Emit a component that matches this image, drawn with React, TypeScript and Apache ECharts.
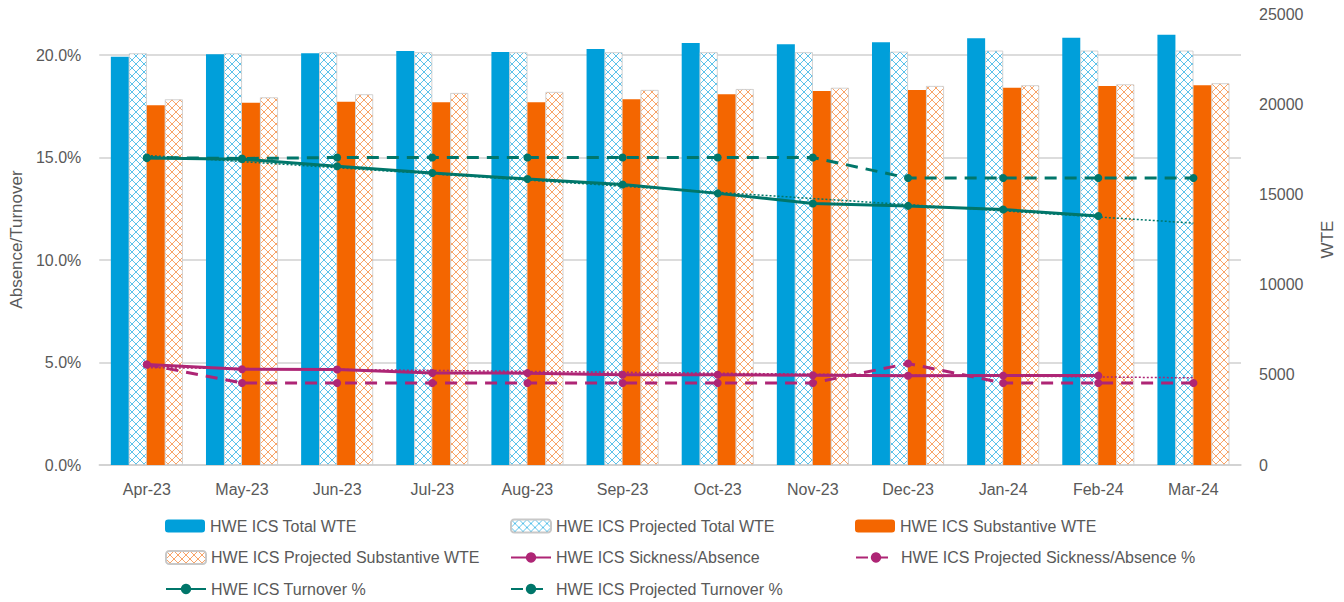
import React, { useEffect, useRef } from 'react';
import * as echarts from 'echarts';

const months = ['Apr-23', 'May-23', 'Jun-23', 'Jul-23', 'Aug-23', 'Sep-23', 'Oct-23', 'Nov-23', 'Dec-23', 'Jan-24', 'Feb-24', 'Mar-24'];
const totalWte = [22630, 22770, 22820, 22950, 22890, 23060, 23390, 23320, 23430, 23650, 23690, 23850];
const projTotalWte = [22820, 22820, 22880, 22880, 22880, 22880, 22880, 22880, 22910, 22970, 22970, 22970];
const substantiveWte = [19940, 20080, 20140, 20110, 20110, 20270, 20550, 20730, 20790, 20910, 21010, 21050];
const projSubstantiveWte = [20270, 20380, 20550, 20620, 20680, 20790, 20840, 20910, 21010, 21050, 21100, 21160];
const sickness = [4.9, 4.67, 4.66, 4.49, 4.48, 4.4, 4.4, 4.38, 4.35, 4.36, 4.36, null];
const projSickness = [4.9, 4.0, 4.0, 4.0, 4.0, 4.0, 4.0, 4.0, 4.95, 4.0, 4.0, 4.0];
const turnover = [14.97, 14.92, 14.57, 14.24, 13.95, 13.68, 13.25, 12.76, 12.64, 12.46, 12.15, null];
const projTurnover = [15.0, 14.95, 15.0, 15.0, 15.0, 15.0, 15.0, 15.0, 14.0, 14.0, 14.0, 14.0];
const sicknessTrend = [4.75, null, null, null, null, null, null, null, null, null, null, 4.25];
const turnoverTrend = [15.1, null, null, null, null, null, null, null, null, null, null, 11.8];
const pctTicks = [0, 5, 10, 15, 20];

const legendLayout: [string, number, number][] = [
  ['HWE ICS Total WTE', 160, 0],
  ['HWE ICS Projected Total WTE', 505, 0],
  ['HWE ICS Substantive WTE', 850, 0],
  ['HWE ICS Projected Substantive WTE', 160, 1],
  ['HWE ICS Sickness/Absence', 505, 1],
  ['HWE ICS Projected Sickness/Absence %', 850, 1],
  ['HWE ICS Turnover %', 160, 2],
  ['HWE ICS Projected Turnover %', 505, 2],
];

const BLUE = '#009fda';
const ORANGE = '#f46600';
const MAGENTA = '#ae2575';
const TEAL = '#00766a';
const TXT = '#595959';
const FONT = 'Liberation Sans';

function makePattern(color: string) {
  const c = document.createElement('canvas');
  c.width = 8;
  c.height = 8;
  const ctx = c.getContext('2d')!;
  ctx.fillStyle = '#ffffff';
  ctx.fillRect(0, 0, 8, 8);
  ctx.strokeStyle = color;
  ctx.lineWidth = 1;
  ctx.beginPath();
  ctx.moveTo(0, 0);
  ctx.lineTo(8, 8);
  ctx.moveTo(8, 0);
  ctx.lineTo(0, 8);
  ctx.stroke();
  return c;
}

export default function App() {
  const ref = useRef<HTMLDivElement>(null);
  useEffect(() => {
    if (!ref.current) return;
    const chart = echarts.init(ref.current, null, { renderer: 'svg' });
    const blueP = { image: makePattern('#5cc2ea'), repeat: 'repeat' };
    const orangeP = { image: makePattern('#f8a468'), repeat: 'repeat' };
    const textStyle = { color: TXT, fontSize: 16, fontFamily: FONT };
    const bar = (name: string, data: number[], color: any, proj: boolean) => ({
      name,
      type: 'bar',
      yAxisIndex: 1,
      data,
      barWidth: 18,
      barGap: '0%',
      itemStyle: proj
        ? { color, borderColor: '#c8c8c8', borderWidth: 0.8 }
        : { color },
    });
    const line = (name: string, data: any[], color: string, dashed: boolean) => ({
      name,
      type: 'line',
      yAxisIndex: 0,
      data,
      symbol: 'circle',
      symbolSize: 8,
      showSymbol: true,
      itemStyle: { color },
      lineStyle: { color, width: 3, type: dashed ? [12, 8] : 'solid' },
      z: 5,
    });
    const trend = (data: any[], color: string) => ({
      name: 'trend',
      type: 'line',
      yAxisIndex: 0,
      data,
      connectNulls: true,
      symbol: 'none',
      lineStyle: { color, width: 1.5, type: [2, 2] },
      z: 4,
      silent: true,
    });
    const legends = legendLayout.map(([name, left, row]) => ({
      orient: 'horizontal',
      left,
      top: 513 + row * 31.5,
      itemWidth: 40,
      itemHeight: 13,
      selectedMode: false,
      textStyle,
      data: [name],
    }));
    chart.setOption({
      animation: false,
      textStyle: { fontFamily: FONT },
      grid: { left: 97, right: 98, top: 14, bottom: 137 },
      legend: legends,
      xAxis: {
        type: 'category',
        data: months,
        axisLine: { lineStyle: { color: '#d0d0d0', width: 1.5 } },
        axisTick: { show: false },
        axisLabel: { ...textStyle, margin: 16 },
      },
      yAxis: [
        {
          type: 'value',
          min: 0,
          max: 22,
          interval: 5,
          name: 'Absence/Turnover',
          nameLocation: 'middle',
          nameRotate: 90,
          nameGap: 68,
          nameTextStyle: { color: TXT, fontSize: 17, fontFamily: FONT },
          axisLine: { show: false },
          axisTick: { show: false },
          axisLabel: {
            ...textStyle,
            margin: 18,
            formatter: (v: number) => (pctTicks.indexOf(v) >= 0 ? v.toFixed(1) + '%' : ''),
          },
          splitLine: {
            lineStyle: { color: ['#d0d0d0', '#d0d0d0', '#d0d0d0', '#d0d0d0', '#d0d0d0', 'rgba(0,0,0,0)'], width: 1.5 },
          },
        },
        {
          type: 'value',
          min: 0,
          max: 25000,
          interval: 5000,
          name: 'WTE',
          nameLocation: 'middle',
          nameRotate: 90,
          nameGap: 78,
          nameTextStyle: { color: TXT, fontSize: 17, fontFamily: FONT },
          axisLine: { show: false },
          axisTick: { show: false },
          axisLabel: { ...textStyle, margin: 18, formatter: (v: number) => String(v) },
          splitLine: { show: false },
        },
      ],
      series: [
        bar('HWE ICS Total WTE', totalWte, BLUE, false),
        bar('HWE ICS Projected Total WTE', projTotalWte, blueP, true),
        bar('HWE ICS Substantive WTE', substantiveWte, ORANGE, false),
        bar('HWE ICS Projected Substantive WTE', projSubstantiveWte, orangeP, true),
        trend(sicknessTrend, MAGENTA),
        trend(turnoverTrend, TEAL),
        line('HWE ICS Sickness/Absence', sickness, MAGENTA, false),
        line('HWE ICS Projected Sickness/Absence %', projSickness, MAGENTA, true),
        line('HWE ICS Turnover %', turnover, TEAL, false),
        line('HWE ICS Projected Turnover %', projTurnover, TEAL, true),
      ],
    });
    return () => chart.dispose();
  }, []);
  return (
    <div
      ref={ref}
      style={{ position: 'fixed', left: 0, top: 0, width: 1344, height: 602, background: '#ffffff' }}
    />
  );
}
